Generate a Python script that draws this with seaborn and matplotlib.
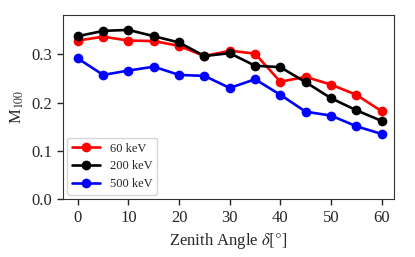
import matplotlib
matplotlib.use("Agg")
import matplotlib.pyplot as plt
import seaborn as sns
import pandas as pd

# === Data ===
angles = [0, 5, 10, 15, 20, 25, 30, 35, 40, 45, 50, 55, 60]
m100_60kev = [0.328, 0.336, 0.328, 0.327, 0.317, 0.296, 0.307, 0.301, 0.243, 0.253, 0.237, 0.216, 0.182]
m100_200kev = [0.337, 0.348, 0.350, 0.337, 0.324, 0.296, 0.302, 0.276, 0.273, 0.242, 0.209, 0.184, 0.162]
m100_500kev = [0.291, 0.257, 0.266, 0.274, 0.257, 0.255, 0.230, 0.248, 0.216, 0.181, 0.173, 0.151, 0.135]
labels = ["60 keV", "200 keV", "500 keV"]
colors = ["red", "black", "blue"]

df = pd.DataFrame({
    "angle": angles * 3,
    "m100": m100_60kev + m100_200kev + m100_500kev,
    "energy": [labels[0]] * 13 + [labels[1]] * 13 + [labels[2]] * 13,
})

sns.set_style("ticks")
plt.rcParams["font.family"] = ["Liberation Serif", "DejaVu Serif"]
plt.rcParams["mathtext.fontset"] = "stix"

fig = plt.figure(figsize=(4.15, 2.57), dpi=100)
ax = fig.add_axes([0.151, 0.2245, 0.799, 0.7175])

sns.lineplot(data=df, x="angle", y="m100", hue="energy", palette=colors,
             marker="o", markersize=7, markeredgewidth=0, linewidth=1.9, ax=ax)

ax.set_ylim(0, 0.381)
ax.set_xlim(-3, 62.5)
ax.set_yticks([0.0, 0.1, 0.2, 0.3])
ax.set_xticks([0, 10, 20, 30, 40, 50, 60])
ax.tick_params(labelsize=12, length=4, width=1)
ax.set_xlabel(r"Zenith Angle $\delta[°]$", fontsize=12)
ax.set_ylabel(r"M$_{100}$", fontsize=12)
for s in ax.spines.values():
    s.set_color("0.2")
ax.legend(loc="lower left", fontsize=9, title=None, frameon=True,
          handlelength=2.2, labelspacing=0.45, borderaxespad=0.35)

fig.savefig("out.png", dpi=100)
